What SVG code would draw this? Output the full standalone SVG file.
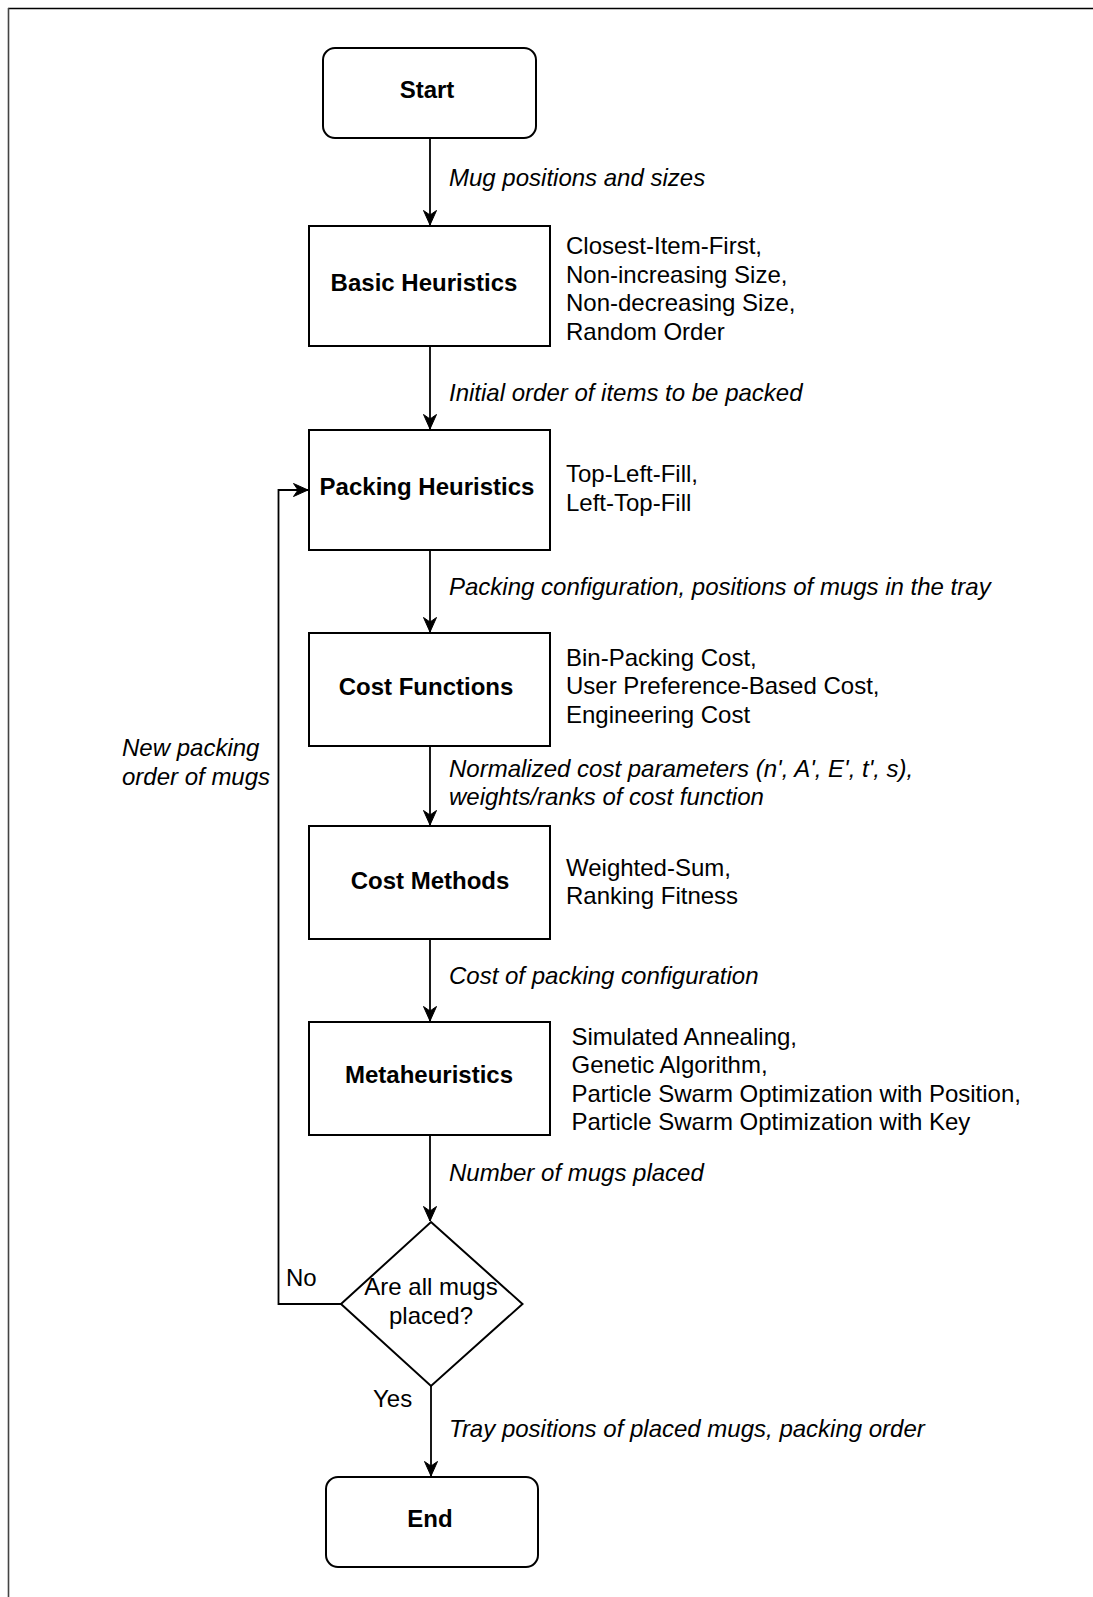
<svg xmlns="http://www.w3.org/2000/svg" width="1093" height="1597" viewBox="0 0 1093 1597">
  <style>
    .node { fill: #ffffff; stroke: #000000; stroke-width: 2; }
    .title { font-family: "Liberation Sans", Arial, Helvetica, sans-serif; font-size: 24px; font-weight: bold; fill: #000; text-anchor: middle; }
    .note { font-family: "Liberation Sans", Arial, Helvetica, sans-serif; font-size: 24px; fill: #000; }
    .label { font-family: "Liberation Sans", Arial, Helvetica, sans-serif; font-size: 24px; font-style: italic; fill: #000; }
    .edge { fill: none; stroke: #000000; stroke-width: 1.8; }
  </style>
  <defs>
    <marker id="arrow" markerUnits="userSpaceOnUse" viewBox="-16 -8 18 16" refX="0" refY="0" markerWidth="18" markerHeight="16" orient="auto">
      <path d="M0,0 L-14.5,-6.5 L-10,0 L-14.5,6.5 Z" fill="#000" stroke="#000" stroke-width="1"/>
    </marker>
  </defs>

  <rect x="0" y="0" width="1093" height="1597" fill="#ffffff"/>
  <!-- frame -->
  <line x1="8" y1="8.5" x2="1093" y2="8.5" stroke="#000" stroke-width="1.6"/>
  <line x1="8.5" y1="8" x2="8.5" y2="1597" stroke="#444" stroke-width="1.6"/>

  <!-- connectors -->
  <g id="connectors">
    <path class="edge" d="M430,138 L430,225" marker-end="url(#arrow)"/>
    <path class="edge" d="M430,346 L430,429" marker-end="url(#arrow)"/>
    <path class="edge" d="M430,550 L430,632" marker-end="url(#arrow)"/>
    <path class="edge" d="M430,746 L430,825" marker-end="url(#arrow)"/>
    <path class="edge" d="M430,939 L430,1021" marker-end="url(#arrow)"/>
    <path class="edge" d="M430,1135 L430,1221" marker-end="url(#arrow)"/>
    <path class="edge" d="M431,1386 L431,1476" marker-end="url(#arrow)"/>
    <path class="edge" d="M341,1304 L278.5,1304 L278.5,490 L308,490" marker-end="url(#arrow)"/>
    <text class="label" x="449" y="186">Mug positions and sizes</text>
    <text class="label" x="449" y="401">Initial order of items to be packed</text>
    <text class="label" x="449" y="595">Packing configuration, positions of mugs in the tray</text>
    <text class="label" x="449" y="777">Normalized cost parameters (n', A', E', t', s),</text>
    <text class="label" x="449" y="805">weights/ranks of cost function</text>
    <text class="label" x="449" y="983.5">Cost of packing configuration</text>
    <text class="label" x="449" y="1181">Number of mugs placed</text>
    <text class="label" x="449" y="1437">Tray positions of placed mugs, packing order</text>
    <text class="label" x="122" y="756">New packing</text>
    <text class="label" x="122" y="784.5">order of mugs</text>
    <text class="note" x="286" y="1286">No</text>
    <text class="note" x="373" y="1407">Yes</text>
  </g>

  <g id="start">
    <rect class="node" x="323" y="48" width="213" height="90" rx="12" ry="12"/>
    <text class="title" x="427" y="98">Start</text>
  </g>

  <g id="basic-heuristics">
    <rect class="node" x="309" y="226" width="241" height="120"/>
    <text class="title" x="424" y="291">Basic Heuristics</text>
    <text class="note" x="566" y="254">Closest-Item-First,</text>
    <text class="note" x="566" y="282.5">Non-increasing Size,</text>
    <text class="note" x="566" y="311">Non-decreasing Size,</text>
    <text class="note" x="566" y="339.5">Random Order</text>
  </g>

  <g id="packing-heuristics">
    <rect class="node" x="309" y="430" width="241" height="120"/>
    <text class="title" x="427" y="494.5">Packing Heuristics</text>
    <text class="note" x="566" y="482">Top-Left-Fill,</text>
    <text class="note" x="566" y="510.5">Left-Top-Fill</text>
  </g>

  <g id="cost-functions">
    <rect class="node" x="309" y="633" width="241" height="113"/>
    <text class="title" x="426" y="695">Cost Functions</text>
    <text class="note" x="566" y="665.5">Bin-Packing Cost,</text>
    <text class="note" x="566" y="694">User Preference-Based Cost,</text>
    <text class="note" x="566" y="722.5">Engineering Cost</text>
  </g>

  <g id="cost-methods">
    <rect class="node" x="309" y="826" width="241" height="113"/>
    <text class="title" x="430" y="889">Cost Methods</text>
    <text class="note" x="566" y="875.5">Weighted-Sum,</text>
    <text class="note" x="566" y="904">Ranking Fitness</text>
  </g>

  <g id="metaheuristics">
    <rect class="node" x="309" y="1022" width="241" height="113"/>
    <text class="title" x="429" y="1083">Metaheuristics</text>
    <text class="note" x="571.5" y="1044.5">Simulated Annealing,</text>
    <text class="note" x="571.5" y="1073">Genetic Algorithm,</text>
    <text class="note" x="571.5" y="1101.5">Particle Swarm Optimization with Position,</text>
    <text class="note" x="571.5" y="1130">Particle Swarm Optimization with Key</text>
  </g>

  <g id="decision">
    <polygon class="node" points="431,1222 522.5,1304 431,1386 341,1304"/>
    <text class="note" x="431" y="1295" text-anchor="middle">Are all mugs</text>
    <text class="note" x="431" y="1323.5" text-anchor="middle">placed?</text>
  </g>

  <g id="end">
    <rect class="node" x="326" y="1477" width="212" height="90" rx="12" ry="12"/>
    <text class="title" x="430" y="1526.5">End</text>
  </g>
</svg>
